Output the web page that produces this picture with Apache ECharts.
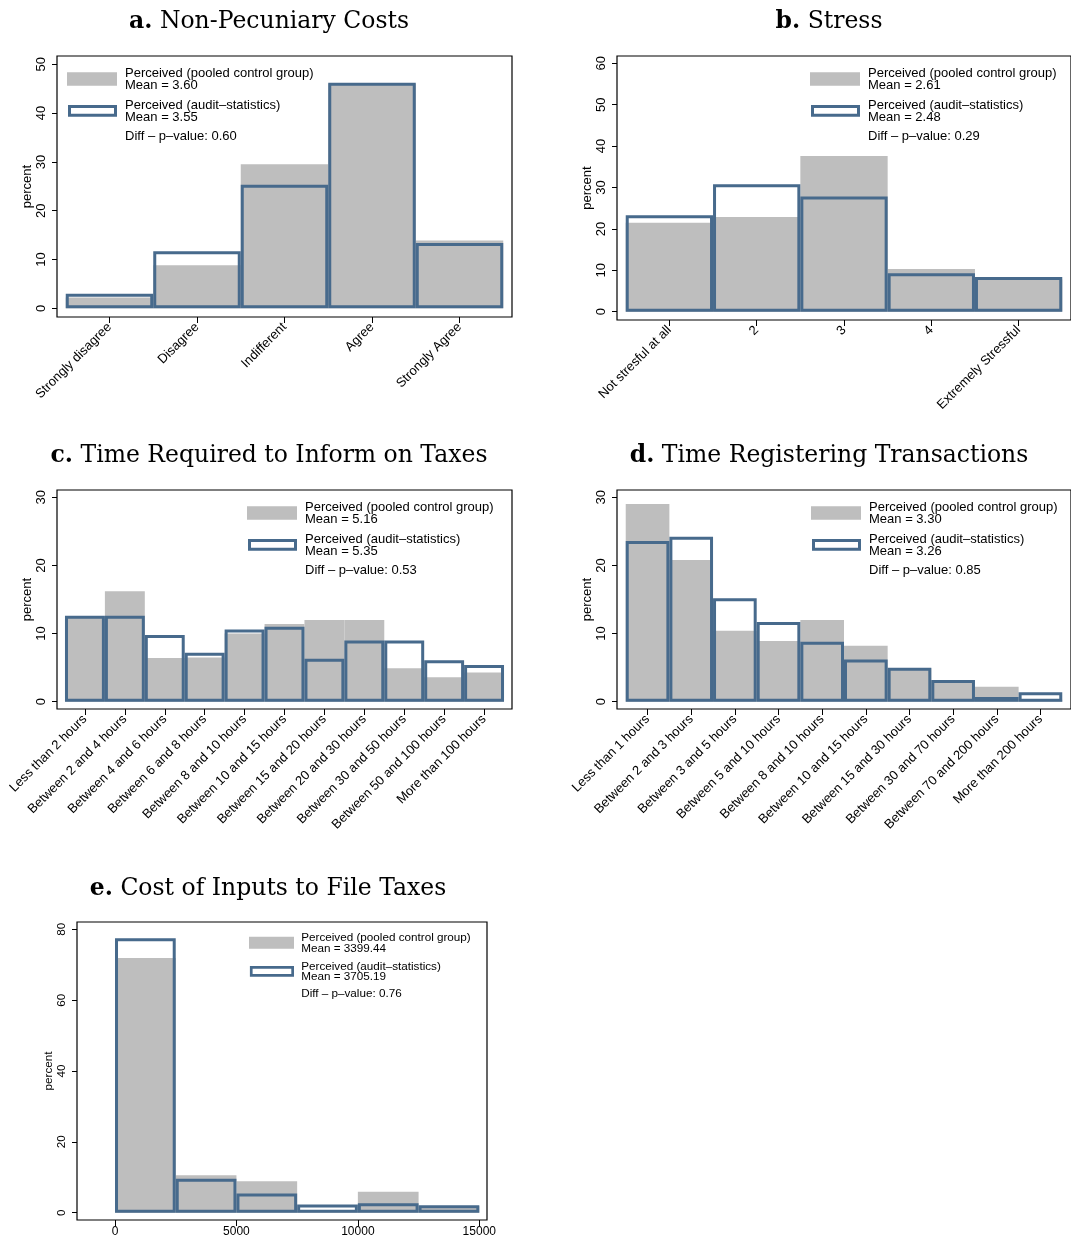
<!DOCTYPE html>
<html>
<head>
<meta charset="utf-8">
<script src="https://cdn.jsdelivr.net/npm/echarts@6/dist/echarts.min.js"></script>
<style>
  html, body { margin: 0; padding: 0; background: #ffffff; }
  #chart { width: 1071px; height: 1238px; }
</style>
</head>
<body>
<div id="chart"></div>
<script>
// ---- a. Non-Pecuniary Costs (percent of respondents per answer) ----
const costCats = ['Strongly disagree', 'Disagree', 'Indifferent', 'Agree', 'Strongly Agree'];
const costPooled = [2.2, 8.8, 29.5, 46.0, 13.9];
const costAudit = [3.0, 11.7, 25.3, 46.2, 13.4];
const costTicks = [0, 10, 20, 30, 40, 50];

// ---- b. Stress ----
const stressCats = ['Not stresful at all', '2', '3', '4', 'Extremely Stressful'];
const stressPooled = [21.5, 22.9, 37.6, 10.3, 7.8];
const stressAudit = [23.3, 30.8, 27.8, 9.3, 8.4];
const stressTicks = [0, 10, 20, 30, 40, 50, 60];

// ---- c. Time Required to Inform on Taxes ----
const informCats = ['Less than 2 hours', 'Between 2 and 4 hours', 'Between 4 and 6 hours',
  'Between 6 and 8 hours', 'Between 8 and 10 hours', 'Between 10 and 15 hours',
  'Between 15 and 20 hours', 'Between 20 and 30 hours', 'Between 30 and 50 hours',
  'Between 50 and 100 hours', 'More than 100 hours'];
const informPooled = [12.5, 16.2, 6.4, 6.5, 10.0, 11.4, 12.0, 12.0, 4.9, 3.6, 4.3];
const informAudit = [12.6, 12.6, 9.8, 7.2, 10.6, 11.0, 6.3, 9.0, 9.0, 6.1, 5.4];
const informTicks = [0, 10, 20, 30];

// ---- d. Time Registering Transactions ----
const registerCats = ['Less than 1 hours', 'Between 2 and 3 hours', 'Between 3 and 5 hours',
  'Between 5 and 10 hours', 'Between 8 and 10 hours', 'Between 10 and 15 hours',
  'Between 15 and 30 hours', 'Between 30 and 70 hours', 'Between 70 and 200 hours',
  'More than 200 hours'];
const registerPooled = [29.0, 20.8, 10.4, 8.9, 12.0, 8.2, 4.9, 3.1, 2.2, 0.3];
const registerAudit = [23.6, 24.2, 15.2, 11.7, 8.8, 6.2, 5.0, 3.2, 0.7, 1.4];
const registerTicks = [0, 10, 20, 30];

// ---- e. Cost of Inputs to File Taxes (bins of 2500) ----
const inputEdges = [0, 2500, 5000, 7500, 10000, 12500, 15000];
const inputPooled = [71.9, 10.6, 8.9, 0.4, 5.9, 1.8];
const inputAudit = [77.5, 9.6, 5.4, 2.3, 2.7, 2.1];
const inputTicks = [0, 20, 40, 60, 80];
const inputXTicks = [0, 5000, 10000, 15000];

// ---- legend texts ----
const pooledName = 'Perceived (pooled control group)';
const auditName = 'Perceived (audit\u2013statistics)';
const costStats = ['3.60', '3.55', '0.60'];
const stressStats = ['2.61', '2.48', '0.29'];
const informStats = ['5.16', '5.35', '0.53'];
const registerStats = ['3.30', '3.26', '0.85'];
const inputStats = ['3399.44', '3705.19', '0.76'];

const GRAY = '#bebebe';
const BLUE = '#476a8c';
const OUTLINE = 3;
const SANS = '"Liberation Sans", Arial, Helvetica, sans-serif';
const SERIF = '"DejaVu Serif", "Liberation Serif", serif';
const TITLE_SIZE = 23.5;

// turn category counts into [lo, hi, value] bins centred on 1..n
function catBins(vals) {
  return vals.map((v, i) => [i + 0.5, i + 1.5, v]);
}
function edgeBins(edges, vals) {
  return vals.map((v, i) => [edges[i], edges[i + 1], v]);
}

// filled bar for the pooled group
function renderFill(params, api) {
  const p0 = api.coord([api.value(0), 0]);
  const p1 = api.coord([api.value(1), api.value(2)]);
  return {
    type: 'rect',
    shape: { x: p0[0], y: p1[1], width: p1[0] - p0[0], height: p0[1] - p1[1] },
    style: { fill: GRAY }
  };
}
// hollow bar for the audit-statistics group; the outline stays inside the bin
function renderOutline(params, api) {
  const p0 = api.coord([api.value(0), 0]);
  const p1 = api.coord([api.value(1), api.value(2)]);
  const h = OUTLINE / 2;
  return {
    type: 'rect',
    shape: {
      x: p0[0] + h, y: p1[1] + h,
      width: Math.max(p1[0] - p0[0] - OUTLINE, 0),
      height: Math.max(p0[1] - p1[1] - OUTLINE, 0)
    },
    style: { fill: 'none', stroke: BLUE, lineWidth: OUTLINE }
  };
}

const panels = [
  { title: 'Non-Pecuniary Costs', letter: 'a.', tx: 269, ty: 22,
    grid: { left: 57, top: 56, width: 455, height: 261 },
    x: [0.4, 5.6], y: [-1.78, 51.7], cats: costCats, yTicks: costTicks,
    pooled: catBins(costPooled), audit: catBins(costAudit),
    stats: costStats, lx: 67, s: 1 },
  { title: 'Stress', letter: 'b.', tx: 829, ty: 22,
    grid: { left: 617, top: 56, width: 462, height: 264 },
    x: [0.4, 5.6], y: [-2.0, 61.76], cats: stressCats, yTicks: stressTicks,
    pooled: catBins(stressPooled), audit: catBins(stressAudit),
    stats: stressStats, lx: 810, s: 1 },
  { title: 'Time Required to Inform on Taxes', letter: 'c.', tx: 269, ty: 456,
    grid: { left: 57, top: 490, width: 455, height: 219 },
    x: [0.3, 11.7], y: [-1.07, 31.07], cats: informCats, yTicks: informTicks,
    pooled: catBins(informPooled), audit: catBins(informAudit),
    stats: informStats, lx: 247, s: 1 },
  { title: 'Time Registering Transactions', letter: 'd.', tx: 829, ty: 456,
    grid: { left: 617, top: 490, width: 463, height: 219 },
    x: [0.3, 10.7], y: [-1.07, 31.07], cats: registerCats, yTicks: registerTicks,
    pooled: catBins(registerPooled), audit: catBins(registerAudit),
    stats: registerStats, lx: 811, s: 1 },
  { title: 'Cost of Inputs to File Taxes', letter: 'e.', tx: 268, ty: 889,
    grid: { left: 77, top: 922, width: 410, height: 298 },
    x: [-1565, 15317], y: [-2.06, 82.06], cats: null, yTicks: inputTicks,
    xTicks: inputXTicks,
    pooled: edgeBins(inputEdges, inputPooled), audit: edgeBins(inputEdges, inputAudit),
    stats: inputStats, lx: 249, s: 0.9 }
];

const grids = [], xAxes = [], yAxes = [], series = [], graphics = [];

panels.forEach((p, i) => {
  const fs = 13 * p.s;
  grids.push(Object.assign({ show: true, borderColor: '#000', borderWidth: 1.2,
    backgroundColor: 'transparent', containLabel: false }, p.grid));

  const xVals = p.cats ? p.cats.map((c, k) => k + 1) : p.xTicks;
  xAxes.push({
    type: 'value', gridIndex: i, min: p.x[0], max: p.x[1], position: 'bottom',
    axisLine: { show: false, onZero: false },
    splitLine: { show: false },
    axisTick: { show: true, customValues: xVals, length: 6, lineStyle: { color: '#000', width: 1 } },
    axisLabel: {
      show: true, customValues: xVals,
      rotate: p.cats ? 45 : 0, margin: p.cats ? 8 : 6,
      fontSize: p.cats ? 13 : 12, fontFamily: SANS, color: '#000',
      formatter: p.cats ? (v) => p.cats[Math.round(v) - 1] : (v) => String(v)
    }
  });
  yAxes.push({
    type: 'value', gridIndex: i, min: p.y[0], max: p.y[1], position: 'left',
    name: 'percent', nameLocation: 'middle', nameGap: p.s < 1 ? 17 : 23,
    nameTextStyle: { fontSize: fs, fontFamily: SANS, color: '#000' },
    axisLine: { show: false, onZero: false },
    splitLine: { show: false },
    axisTick: { show: true, customValues: p.yTicks, length: 5, lineStyle: { color: '#000', width: 1 } },
    axisLabel: { show: true, customValues: p.yTicks, rotate: 90, margin: 9,
      fontSize: fs, fontFamily: SANS, color: '#000' }
  });

  series.push({
    type: 'custom', name: pooledName, xAxisIndex: i, yAxisIndex: i,
    renderItem: renderFill, data: p.pooled, encode: { x: [0, 1], y: 2 }, z: 2, silent: true
  });
  series.push({
    type: 'custom', name: auditName, xAxisIndex: i, yAxisIndex: i,
    renderItem: renderOutline, data: p.audit, encode: { x: [0, 1], y: 2 }, z: 3, silent: true
  });

  // panel heading
  graphics.push({
    type: 'text', x: p.tx, y: p.ty, silent: true,
    style: {
      text: '{b|' + p.letter + '} ' + p.title,
      rich: { b: { fontWeight: 'bold', fontFamily: SERIF, fontSize: TITLE_SIZE, fill: '#000' } },
      fontFamily: SERIF, fontSize: TITLE_SIZE, fill: '#000',
      align: 'center', verticalAlign: 'middle'
    }
  });

  // in-plot key
  const s = p.s, lx = p.lx, top = p.grid.top, tx = lx + 58 * s;
  const line = (t, dy) => ({
    type: 'text', x: tx, y: top + dy * s, silent: true,
    style: { text: t, fontSize: fs, fontFamily: SANS, fill: '#000', align: 'left', verticalAlign: 'middle' }
  });
  graphics.push({ type: 'rect', silent: true,
    shape: { x: lx, y: top + 16.3 * s, width: 50 * s, height: 13.4 * s }, style: { fill: GRAY } });
  graphics.push({ type: 'rect', silent: true,
    shape: { x: lx + 2.5 * s, y: top + 50.5 * s, width: 46 * s, height: 8.7 * s },
    style: { fill: '#fff', stroke: BLUE, lineWidth: OUTLINE * s } });
  graphics.push(line(pooledName, 17));
  graphics.push(line('Mean = ' + p.stats[0], 29.3));
  graphics.push(line(auditName, 49.3));
  graphics.push(line('Mean = ' + p.stats[1], 61.3));
  graphics.push(line('Diff \u2013 p\u2013value: ' + p.stats[2], 80.3));
});

const chart = echarts.init(document.getElementById('chart'), null, { renderer: 'canvas' });
chart.setOption({
  backgroundColor: '#ffffff',
  animation: false,
  grid: grids,
  xAxis: xAxes,
  yAxis: yAxes,
  series: series,
  graphic: graphics
});
</script>
</body>
</html>
